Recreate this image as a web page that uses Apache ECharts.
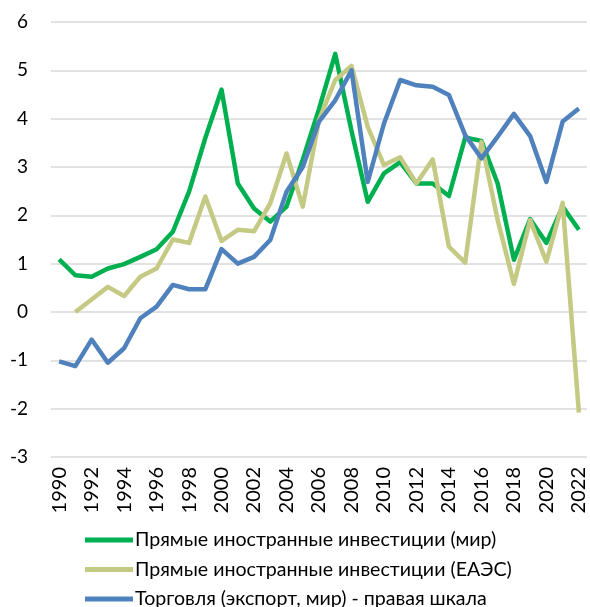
<!DOCTYPE html>
<html>
<head>
<meta charset="utf-8">
<script src="https://cdn.jsdelivr.net/npm/echarts@6/dist/echarts.min.js"></script>
<style>html,body{margin:0;padding:0;background:#fff}#c{width:590px;height:607px}</style>
</head>
<body>
<div id="c"></div>
<script>
var years = [];
for (var y = 1990; y <= 2022; y++) years.push(String(y));
var fdiWorld = [1.09,0.76,0.73,0.9,0.99,1.14,1.3,1.66,2.49,3.6,4.6,2.66,2.14,1.87,2.18,3.15,4.2,5.34,3.75,2.28,2.87,3.1,2.66,2.66,2.4,3.61,3.54,2.66,1.08,1.92,1.43,2.18,1.7];
var fdiEAEU = [null,0,0.26,0.52,0.33,0.73,0.9,1.5,1.43,2.39,1.47,1.7,1.67,2.25,3.28,2.18,3.97,4.8,5.09,3.83,3.04,3.2,2.66,3.16,1.35,1.02,3.52,1.9,0.58,1.9,1.04,2.26,-2.08];
var trade = [-1.02,-1.12,-0.57,-1.05,-0.75,-0.13,0.11,0.56,0.47,0.47,1.3,1.0,1.14,1.49,2.49,3.0,3.94,4.38,5.0,2.69,3.9,4.8,4.69,4.66,4.49,3.66,3.18,3.63,4.1,3.64,2.69,3.94,4.21];
var seriesNames = ['Прямые иностранные инвестиции (мир)','Прямые иностранные инвестиции (ЕАЭС)','Торговля (экспорт, мир) - правая шкала'];
var colors = ['#00B050','#C4C983','#4F81BD'];
var FONT = 'Lato';
var chart = echarts.init(document.getElementById('c'));
function mk(i, data){
  return {name: seriesNames[i], type:'line', data:data, symbol:'none', z: 2+i,
    lineStyle:{width:4.5, color:colors[i], join:'round'}, itemStyle:{color:colors[i]}};
}
chart.setOption({
  animation:false,
  grid:{left:51, right:3, top:22, bottom:150},
  legend:{orient:'vertical', left:80, top:525, height:120, itemWidth:48, itemHeight:5, itemGap:9.5, icon:'rect',
    textStyle:{fontFamily:FONT, fontSize:19.6, color:'#000', padding:[0,0,0,-3]},
    data:seriesNames},
  xAxis:{type:'category', data:years, boundaryGap:true,
    axisLine:{show:false}, axisTick:{show:false},
    axisLabel:{rotate:90, interval:1, margin:10, fontFamily:FONT, fontSize:20, color:'#000'}},
  yAxis:{type:'value', min:-3, max:6, interval:1,
    axisLine:{show:false}, axisTick:{show:false},
    splitLine:{lineStyle:{color:'#D9D9D9', width:1.5}},
    axisLabel:{margin:23, fontFamily:FONT, fontSize:19, color:'#000'}},
  series:[mk(0,fdiWorld), mk(1,fdiEAEU), mk(2,trade)]
});
</script>
</body>
</html>
